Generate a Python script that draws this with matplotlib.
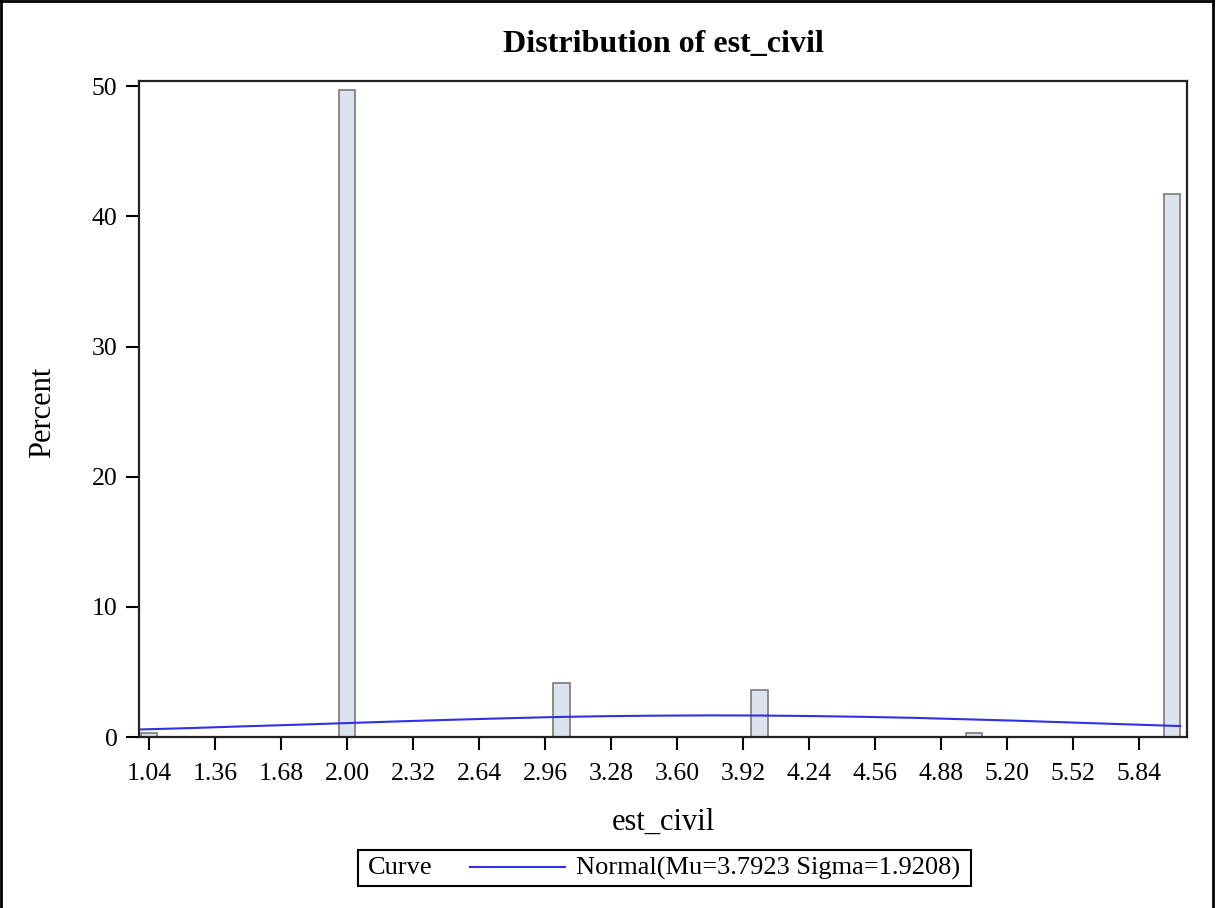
import matplotlib.pyplot as plt
from matplotlib.lines import Line2D
from matplotlib.patches import Rectangle

# Histogram bins (midpoints) and percents
bin_mid = [1.04, 2.00, 3.04, 4.00, 5.04, 6.00]
percent = [0.27, 49.73, 4.15, 3.58, 0.27, 41.70]
bin_width = 0.08

curve_x = [1.00, 1.25, 1.50, 1.75, 2.00, 2.25, 2.50, 2.75, 3.00, 3.25, 3.50,
           3.75, 4.00, 4.25, 4.50, 4.75, 5.00, 5.25, 5.50, 5.75, 6.00, 6.04]
curve_y = [0.58, 0.69, 0.82, 0.94, 1.07, 1.20, 1.32, 1.43, 1.53, 1.60, 1.64,
           1.66, 1.65, 1.61, 1.55, 1.47, 1.36, 1.25, 1.12, 0.99, 0.86, 0.84]

x_ticks = [1.04, 1.36, 1.68, 2.00, 2.32, 2.64, 2.96, 3.28, 3.60, 3.92,
           4.24, 4.56, 4.88, 5.20, 5.52, 5.84]
y_ticks = [0, 10, 20, 30, 40, 50]

plt.rcParams['font.family'] = ['Liberation Serif', 'DejaVu Serif']

fig = plt.figure(figsize=(12.16, 9.08), dpi=100)
ax = fig.add_axes([139 / 1216, 1 - 737 / 908, (1187 - 139) / 1216, (737 - 81) / 908])

ax.bar(bin_mid, percent, width=bin_width, color='#dbe3ef', edgecolor='#7a7a7a',
       linewidth=1.2, zorder=2)
ax.plot(curve_x, curve_y, color='#3030e8', linewidth=1.5, zorder=3)

ax.set_xlim(0.9915, 6.073)
ax.set_ylim(0, 50.4)
ax.set_xticks(x_ticks)
ax.set_xticklabels([f'{t:.2f}' for t in x_ticks])
ax.set_yticks(y_ticks)
ax.tick_params(axis='both', direction='out', length=9.5, width=1.5, labelsize=18.5,
               colors='black')
ax.tick_params(axis='x', pad=9)
ax.tick_params(axis='y', pad=6)
for s in ax.spines.values():
    s.set_linewidth(1.6)
    s.set_color('#222222')

fig.text(663 / 1216, 1 - 45 / 908, 'Distribution of est_civil', ha='center',
         va='center', fontsize=23, fontweight='bold')
fig.text(663 / 1216, 1 - 822 / 908, 'est_civil', ha='center', va='center',
         fontsize=22)
fig.text(43 / 1216, 1 - 412 / 908, 'Percent', ha='center', va='center',
         fontsize=22, rotation=90)

# legend box
fig.patches.append(Rectangle((358 / 1216, 1 - 886 / 908), (971 - 358) / 1216,
                             36 / 908, transform=fig.transFigure, fill=False,
                             edgecolor='black', linewidth=1.5))
fig.text(368 / 1216, 1 - 868 / 908, 'Curve', ha='left', va='center', fontsize=19)
fig.lines.append(Line2D([470 / 1216, 565 / 1216], [1 - 867 / 908, 1 - 867 / 908],
                        transform=fig.transFigure, color='#3030e8', linewidth=1.5))
fig.text(576 / 1216, 1 - 868 / 908, 'Normal(Mu=3.7923 Sigma=1.9208)', ha='left',
         va='center', fontsize=19)

# outer frame
for xs, ys in [([1 / 1216, 1 / 1216], [0, 1]), ([0, 1213 / 1216], [1 - 1 / 908, 1 - 1 / 908]),
               ([1213 / 1216, 1213 / 1216], [0, 1])]:
    fig.lines.append(Line2D(xs, ys, transform=fig.transFigure, color='black',
                            linewidth=2))

fig.savefig('out.png', dpi=100)
